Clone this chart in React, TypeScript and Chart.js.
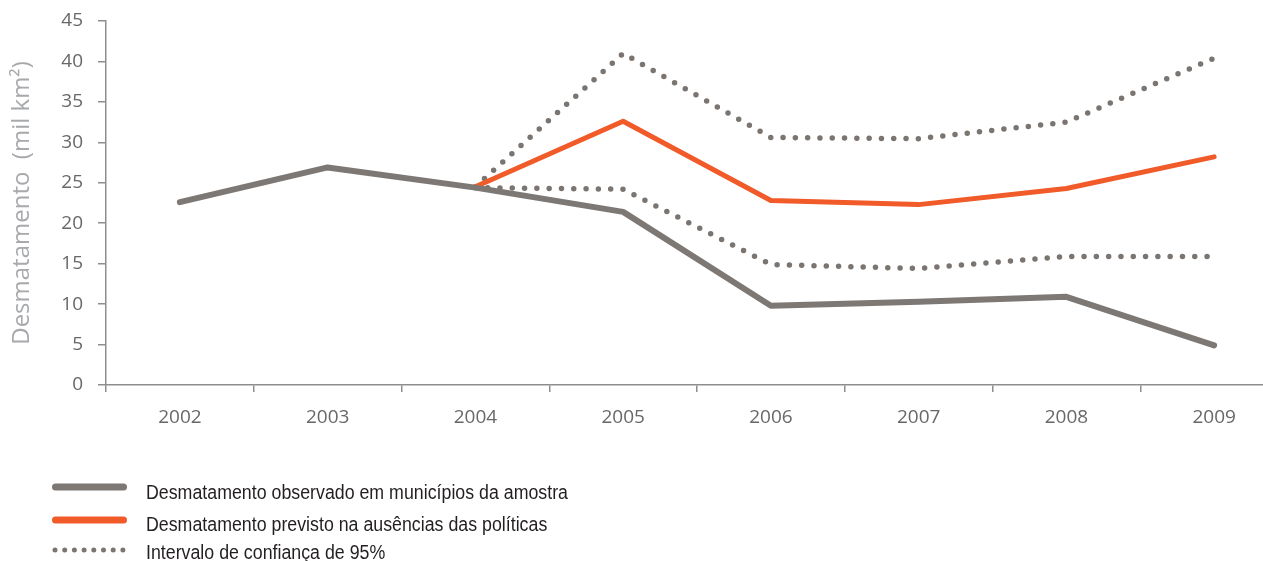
import React, { useEffect, useRef } from "react";
import { Chart, registerables } from "chart.js";

Chart.register(...registerables);

const years = ["2002", "2003", "2004", "2005", "2006", "2007", "2008", "2009"];
const observed = [22.6, 26.9, 24.4, 21.4, 9.8, 10.3, 10.9, 4.9];
const predicted = [null, null, 24.5, 32.6, 22.8, 22.3, 24.3, 28.2];
const ciUpper = [null, null, 24.5, 41.0, 30.6, 30.45, 32.5, 40.4];
const ciLower = [null, null, 24.4, 24.2, 14.9, 14.4, 15.9, 15.9];
const yTickValues = [0, 5, 10, 15, 20, 25, 30, 35, 40, 45];

const labelObserved = "Desmatamento observado em municípios da amostra";
const labelPredicted = "Desmatamento previsto na ausências das políticas";
const labelCI = "Intervalo de confiança de 95%";
const yTitle = "Desmatamento  (mil km²)";

const GRAY = "#7d7874";
const ORANGE = "#f15a29";
const DOT = "#7a7571";
const TICK = "#676869";
const AXIS = "#8e8e8e";
const TITLE = "#a7a9ac";
const TEXT = "#231f20";

const legendPlugin = {
  id: "customLegend",
  afterDraw(chart: any) {
    const ctx = chart.ctx;
    const ds = chart.data.datasets;
    const rows = [
      { kind: "solid", color: GRAY, y: 487, textY: 499, text: ds[0].label },
      { kind: "solid", color: ORANGE, y: 520, textY: 531, text: ds[1].label },
      { kind: "dot", color: DOT, y: 550, textY: 559, text: ds[2].label },
    ];
    ctx.save();
    ctx.font = "20px 'Liberation Sans', Arial, sans-serif";
    const w0 = ctx.measureText(rows[0].text).width;
    const sx = w0 > 0 ? 422 / w0 : 1;
    rows.forEach((r) => {
      ctx.beginPath();
      ctx.strokeStyle = r.color;
      ctx.lineCap = "round";
      if (r.kind === "solid") {
        ctx.lineWidth = 7;
        ctx.setLineDash([]);
        ctx.moveTo(55.5, r.y);
        ctx.lineTo(123.5, r.y);
      } else {
        ctx.lineWidth = 5;
        ctx.setLineDash([0, 9.7]);
        ctx.moveTo(55, r.y);
        ctx.lineTo(124, r.y);
      }
      ctx.stroke();
      ctx.setLineDash([]);
      ctx.save();
      ctx.translate(146, r.textY);
      ctx.scale(sx, 1);
      ctx.fillStyle = TEXT;
      ctx.font = "20px 'Liberation Sans', Arial, sans-serif";
      ctx.textBaseline = "alphabetic";
      ctx.textAlign = "left";
      ctx.fillText(r.text, 0, 0);
      ctx.restore();
    });
    ctx.restore();
  },
};

export default function App() {
  const ref = useRef<HTMLCanvasElement>(null);

  useEffect(() => {
    if (!ref.current) return;
    const chart = new Chart(ref.current, {
      type: "line",
      data: {
        labels: years,
        datasets: [
          {
            label: labelObserved,
            data: observed,
            borderColor: GRAY,
            borderWidth: 6,
            borderJoinStyle: "round",
            borderCapStyle: "round",
            pointRadius: 0,
            tension: 0,
          },
          {
            label: labelPredicted,
            data: predicted as any,
            borderColor: ORANGE,
            borderWidth: 5,
            borderJoinStyle: "round",
            borderCapStyle: "round",
            pointRadius: 0,
            tension: 0,
          },
          {
            label: labelCI,
            data: ciUpper as any,
            borderColor: DOT,
            borderWidth: 5.5,
            borderDash: [0, 12.3],
            borderCapStyle: "round",
            borderJoinStyle: "round",
            pointRadius: 0,
            tension: 0,
          },
          {
            label: labelCI + " (inferior)",
            data: ciLower as any,
            borderColor: DOT,
            borderWidth: 5.5,
            borderDash: [0, 12.3],
            borderCapStyle: "round",
            borderJoinStyle: "round",
            pointRadius: 0,
            tension: 0,
          },
        ],
      },
      options: {
        animation: false,
        responsive: false,
        maintainAspectRatio: false,
        layout: { padding: { top: 21, right: 12, left: 0, bottom: 0 } },
        plugins: {
          legend: { display: false },
          tooltip: { enabled: false },
        },
        scales: {
          x: {
            type: "category",
            offset: true,
            grid: {
              offset: true,
              drawOnChartArea: false,
              drawTicks: true,
              tickLength: 7,
              color: AXIS,
              lineWidth: 1.5,
            },
            border: { display: true, color: AXIS, width: 1.5 },
            ticks: {
              color: TICK,
              padding: 14,
              font: { family: "'Open Sans', sans-serif", size: 19 },
              maxRotation: 0,
              autoSkip: false,
            },
            afterFit: (s: any) => {
              s.height = 176;
              s.paddingLeft = 0;
              s.paddingRight = 0;
            },
          },
          y: {
            min: 0,
            max: 45,
            afterBuildTicks: (s: any) => {
              s.ticks = yTickValues.map((v) => ({ value: v }));
            },
            grid: {
              drawOnChartArea: false,
              drawTicks: true,
              tickLength: 8,
              color: AXIS,
              lineWidth: 1.5,
            },
            border: { display: true, color: AXIS, width: 1.5 },
            ticks: {
              color: TICK,
              padding: 15,
              font: { family: "'Open Sans', sans-serif", size: 19 },
              autoSkip: false,
            },
            title: {
              display: true,
              text: yTitle,
              color: TITLE,
              font: { family: "'Open Sans', sans-serif", size: 24 },
              padding: { top: 8, bottom: 0 },
            },
            afterFit: (s: any) => {
              s.width = 106;
              s.paddingTop = 0;
              s.paddingBottom = 0;
            },
          },
        },
      },
      plugins: [legendPlugin],
    });
    return () => chart.destroy();
  }, []);

  return (
    <div
      style={{
        position: "fixed",
        left: 0,
        top: 0,
        width: 1263,
        height: 561,
        overflow: "hidden",
        background: "#ffffff",
      }}
    >
      <canvas ref={ref} width={1300} height={561} style={{ width: 1300, height: 561, display: "block" }} />
    </div>
  );
}
